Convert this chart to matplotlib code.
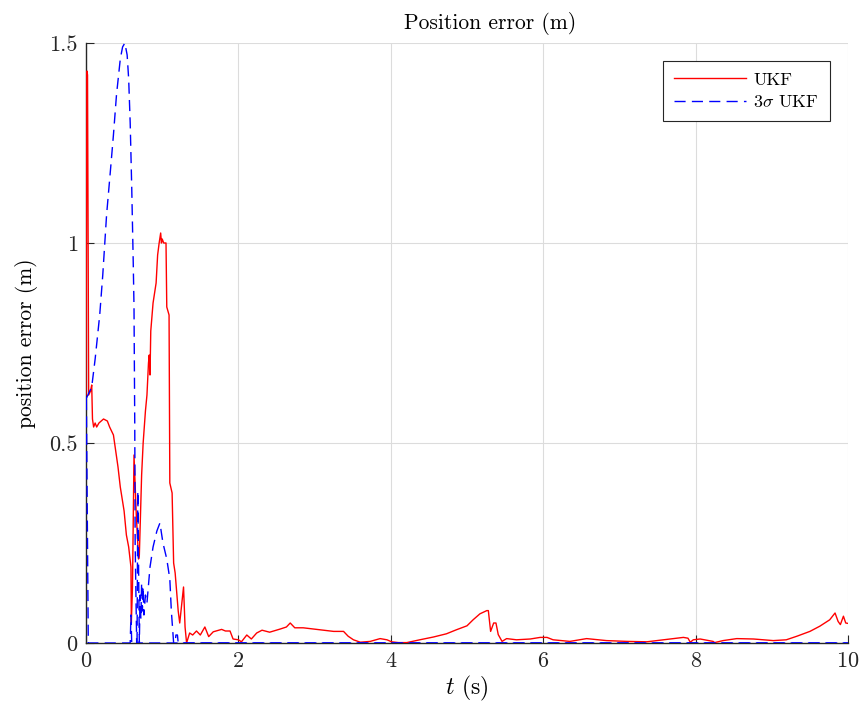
import matplotlib
matplotlib.use("Agg")
import matplotlib.pyplot as plt

# UKF position error
ukf_t = [0.0, 0.012, 0.02, 0.035, 0.06, 0.075, 0.085, 0.10, 0.12, 0.14, 0.17,
         0.23, 0.28, 0.31, 0.36, 0.42, 0.45, 0.50, 0.53, 0.56, 0.59, 0.595,
         0.61, 0.63, 0.66, 0.69, 0.70, 0.72, 0.73, 0.75, 0.78, 0.80, 0.82,
         0.83, 0.84, 0.85, 0.88, 0.92, 0.94, 0.96, 0.98, 0.99, 1.00, 1.02,
         1.05, 1.06, 1.09, 1.10, 1.13, 1.15, 1.17, 1.21, 1.23, 1.28, 1.30,
         1.32, 1.36, 1.40, 1.45, 1.50, 1.56, 1.61, 1.67, 1.78, 1.83, 1.89,
         1.93, 2.00, 2.04, 2.11, 2.17, 2.24, 2.31, 2.41, 2.55, 2.63, 2.68,
         2.74, 2.85, 2.98, 3.11, 3.25, 3.38, 3.44, 3.51, 3.60, 3.73, 3.86,
         3.95, 4.01, 4.10, 4.21, 4.38, 4.56, 4.73, 4.86, 5.00, 5.08, 5.17,
         5.26, 5.28, 5.31, 5.35, 5.38, 5.41, 5.46, 5.52, 5.65, 5.83, 5.96,
         6.05, 6.13, 6.35, 6.57, 6.83, 7.10, 7.36, 7.58, 7.84, 7.90, 7.93,
         7.97, 8.06, 8.23, 8.25, 8.36, 8.54, 8.76, 9.02, 9.19, 9.33, 9.50,
         9.63, 9.76, 9.83, 9.87, 9.90, 9.94, 9.97, 10.0]
ukf_err = [0.62, 1.43, 1.42, 0.62, 0.63, 0.645, 0.56, 0.54, 0.55, 0.54, 0.55,
           0.56, 0.555, 0.54, 0.52, 0.44, 0.39, 0.33, 0.27, 0.24, 0.19, 0.05,
           0.14, 0.47, 0.32, 0.21, 0.22, 0.36, 0.42, 0.50, 0.58, 0.62, 0.70,
           0.72, 0.67, 0.78, 0.85, 0.90, 0.97, 1.00, 1.025, 1.00, 1.01, 1.00,
           1.00, 0.84, 0.82, 0.40, 0.375, 0.20, 0.175, 0.08, 0.05, 0.14, 0.04,
           0.0, 0.025, 0.02, 0.03, 0.02, 0.04, 0.016, 0.028, 0.034, 0.03, 0.03,
           0.01, 0.008, 0.003, 0.02, 0.01, 0.025, 0.032, 0.027, 0.035, 0.04, 0.05,
           0.038, 0.038, 0.035, 0.032, 0.029, 0.029, 0.017, 0.008, 0.002, 0.004, 0.011,
           0.008, 0.003, 0.001, 0.001, 0.008, 0.015, 0.023, 0.033, 0.043, 0.058, 0.073,
           0.081, 0.081, 0.029, 0.05, 0.05, 0.021, 0.004, 0.011, 0.008, 0.01, 0.014,
           0.014, 0.008, 0.004, 0.011, 0.006, 0.004, 0.003, 0.008, 0.014, 0.012, 0.002,
           0.008, 0.01, 0.004, 0.001, 0.006, 0.011, 0.01, 0.006, 0.008, 0.017, 0.029,
           0.042, 0.058, 0.075, 0.054, 0.046, 0.067, 0.05, 0.049]

# 3-sigma bound, first trace
sig_a_t = [0.0, 0.075, 0.12, 0.18, 0.22, 0.27, 0.32, 0.36, 0.40, 0.45, 0.48,
           0.51, 0.54, 0.56, 0.58, 0.60, 0.62, 0.63, 0.64, 0.645, 0.665, 10.0]
sig_a = [0.61, 0.64, 0.71, 0.82, 0.92, 1.07, 1.18, 1.27, 1.37, 1.46, 1.49,
         1.50, 1.47, 1.41, 1.30, 1.14, 0.95, 0.84, 0.54, 0.25, 0.0, 0.0]

# 3-sigma bound, second trace
sig_b_t = [0.005, 0.03, 0.58, 0.59, 0.60, 0.67, 0.68, 0.70, 0.71, 0.72, 0.73,
           0.74, 0.75, 0.76, 0.78, 0.80, 0.84, 0.88, 0.93, 0.97, 1.01, 1.06,
           1.10, 1.12, 1.15, 1.17, 1.18, 1.20, 1.21, 10.0]
sig_b = [0.61, 0.0, 0.0, 0.07, 0.0, 0.0, 0.38, 0.0, 0.12, 0.06, 0.15,
         0.08, 0.14, 0.07, 0.12, 0.10, 0.19, 0.24, 0.28, 0.30, 0.25, 0.21,
         0.16, 0.08, 0.0, 0.0, 0.02, 0.02, 0.0, 0.0]

x_ticks = [0, 2, 4, 6, 8, 10]
y_ticks = [0, 0.5, 1, 1.5]
y_tick_labels = ["0", "0.5", "1", "1.5"]

plt.rcParams['font.family'] = ['cmr10', 'DejaVu Serif']
plt.rcParams['mathtext.fontset'] = 'cm'
plt.rcParams['axes.formatter.use_mathtext'] = True

fig = plt.figure(figsize=(8.66, 7.17), dpi=100)
ax = fig.add_axes([86 / 866, 1 - 643 / 717, 762 / 866, 600 / 717])

dash = (8, 4.5)
ax.plot(ukf_t, ukf_err, color='red', lw=1.0, label='UKF', zorder=3)
ax.plot(sig_a_t, sig_a, color='blue', lw=1.0, ls='--', dashes=dash,
        label=r'$3\sigma$ UKF', zorder=3)
ax.plot(sig_b_t, sig_b, color='blue', lw=1.0, ls='--', dashes=dash, zorder=3)

ax.set_xlim(0, 10)
ax.set_ylim(0, 1.5)
ax.set_xticks(x_ticks)
ax.set_yticks(y_ticks)
ax.set_yticklabels(y_tick_labels)
ax.grid(True, color='#dcdcdc', lw=0.8)
ax.set_axisbelow(True)

for side in ['top', 'right']:
    ax.spines[side].set_visible(False)
for side in ['left', 'bottom']:
    ax.spines[side].set_color('#262626')
    ax.spines[side].set_linewidth(1.0)
ax.tick_params(direction='in', length=6, width=0.8, colors='#262626',
               labelsize=16, pad=6)

ax.set_title('Position error (m)', fontsize=15.5, pad=10, x=0.53)
ax.set_xlabel(r'$t$ (s)', fontsize=17, labelpad=2)
ax.set_ylabel('position error (m)', fontsize=15.5, labelpad=8)

leg = ax.legend(loc='upper right', fontsize=13, handlelength=4.0,
                handletextpad=0.4, fancybox=False, framealpha=1,
                borderaxespad=1.0, borderpad=0.6, labelspacing=0.35)
leg.get_frame().set_edgecolor('#262626')
leg.get_frame().set_linewidth(0.8)

fig.savefig('out.png', dpi=100)
